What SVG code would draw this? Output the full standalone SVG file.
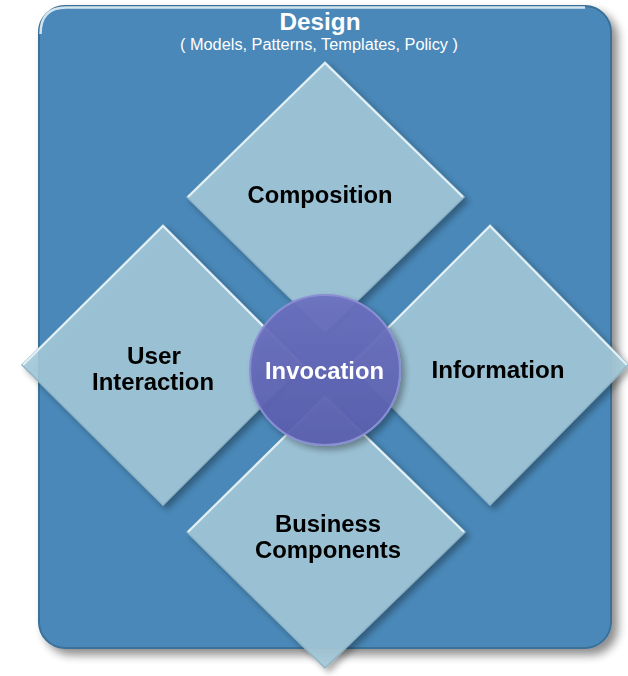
<svg xmlns="http://www.w3.org/2000/svg" width="628" height="676" viewBox="0 0 628 676">
<defs>
<filter id="sh" x="-20%" y="-20%" width="150%" height="150%">
<feGaussianBlur in="SourceAlpha" stdDeviation="5"/>
<feOffset dx="6" dy="6" result="b"/>
<feComponentTransfer><feFuncA type="linear" slope="0.45"/></feComponentTransfer>
<feMerge><feMergeNode/><feMergeNode in="SourceGraphic"/></feMerge>
</filter>
<filter id="dsh" x="-20%" y="-20%" width="150%" height="150%">
<feGaussianBlur in="SourceAlpha" stdDeviation="3"/>
<feOffset dx="4" dy="4" result="b"/>
<feComponentTransfer><feFuncA type="linear" slope="0.35"/></feComponentTransfer>
<feMerge><feMergeNode/><feMergeNode in="SourceGraphic"/></feMerge>
</filter>
<linearGradient id="cg" x1="0" y1="0" x2="0" y2="1">
<stop offset="0" stop-color="#6c70c0"/>
<stop offset="1" stop-color="#5a5eae"/>
</linearGradient>
<style>
.lbl{font-family:"Liberation Sans",Arial,sans-serif;font-weight:bold;font-size:23px;fill:#000;text-anchor:middle}
.dia{fill:#a3c8d8;fill-opacity:0.9;stroke:#8fb4c6;stroke-width:1.5}
.hl{fill:none;stroke:#e4f1f6;stroke-width:2}
</style>
</defs>
<g id="design">
<rect x="39" y="6" width="572" height="642" rx="26" fill="#4a88b8" stroke="#3b6f97" stroke-width="2" filter="url(#sh)"/>
<path d="M40.5,34 Q40.5,7.5 66,7.5 L585,7.5" fill="none" stroke="#d2e4ef" stroke-width="2.5"/>
<text x="320" y="30" font-family="Liberation Sans,Arial,sans-serif" font-weight="bold" font-size="23" fill="#fff" text-anchor="middle" textLength="81" lengthAdjust="spacingAndGlyphs">Design</text>
<text x="319" y="50" font-family="Liberation Sans,Arial,sans-serif" font-size="16" fill="#fff" text-anchor="middle" textLength="278" lengthAdjust="spacingAndGlyphs">( Models, Patterns, Templates, Policy )</text>
</g>
<g id="composition" filter="url(#dsh)">
<polygon class="dia" points="325,62 464,197 325,332 187,197"/>
<path class="hl" d="M188,197 L325,63 L463,197"/>
<text class="lbl" x="320" y="203" textLength="145" lengthAdjust="spacingAndGlyphs">Composition</text>
</g>
<g id="user-interaction" filter="url(#dsh)">
<polygon class="dia" points="163,225 303,365 163,505 22,365"/>
<path class="hl" d="M23,365 L163,226 L302,365"/>
<text class="lbl" x="154" y="364" textLength="54" lengthAdjust="spacingAndGlyphs">User</text>
<text class="lbl" x="153" y="390" textLength="122" lengthAdjust="spacingAndGlyphs">Interaction</text>
</g>
<g id="information" filter="url(#dsh)">
<polygon class="dia" points="490,225 628,365 490,505 350,365"/>
<path class="hl" d="M351,365 L490,226 L627,365"/>
<text class="lbl" x="498" y="378" textLength="133" lengthAdjust="spacingAndGlyphs">Information</text>
</g>
<g id="business-components" filter="url(#dsh)">
<polygon class="dia" points="325,396 465,532 325,668 187,532"/>
<path class="hl" d="M188,532 L325,397 L464,532"/>
<text class="lbl" x="328" y="532" textLength="106" lengthAdjust="spacingAndGlyphs">Business</text>
<text class="lbl" x="328" y="558" textLength="146" lengthAdjust="spacingAndGlyphs">Components</text>
</g>
<g id="invocation" filter="url(#dsh)">
<circle cx="325" cy="370" r="75" fill="url(#cg)" fill-opacity="0.92" stroke="#8a8fd4" stroke-width="2"/>
<text x="324.5" y="379" font-family="Liberation Sans,Arial,sans-serif" font-weight="bold" font-size="23" fill="#fff" text-anchor="middle" textLength="119" lengthAdjust="spacingAndGlyphs">Invocation</text>
</g>
<g id="connectors"/>
</svg>
